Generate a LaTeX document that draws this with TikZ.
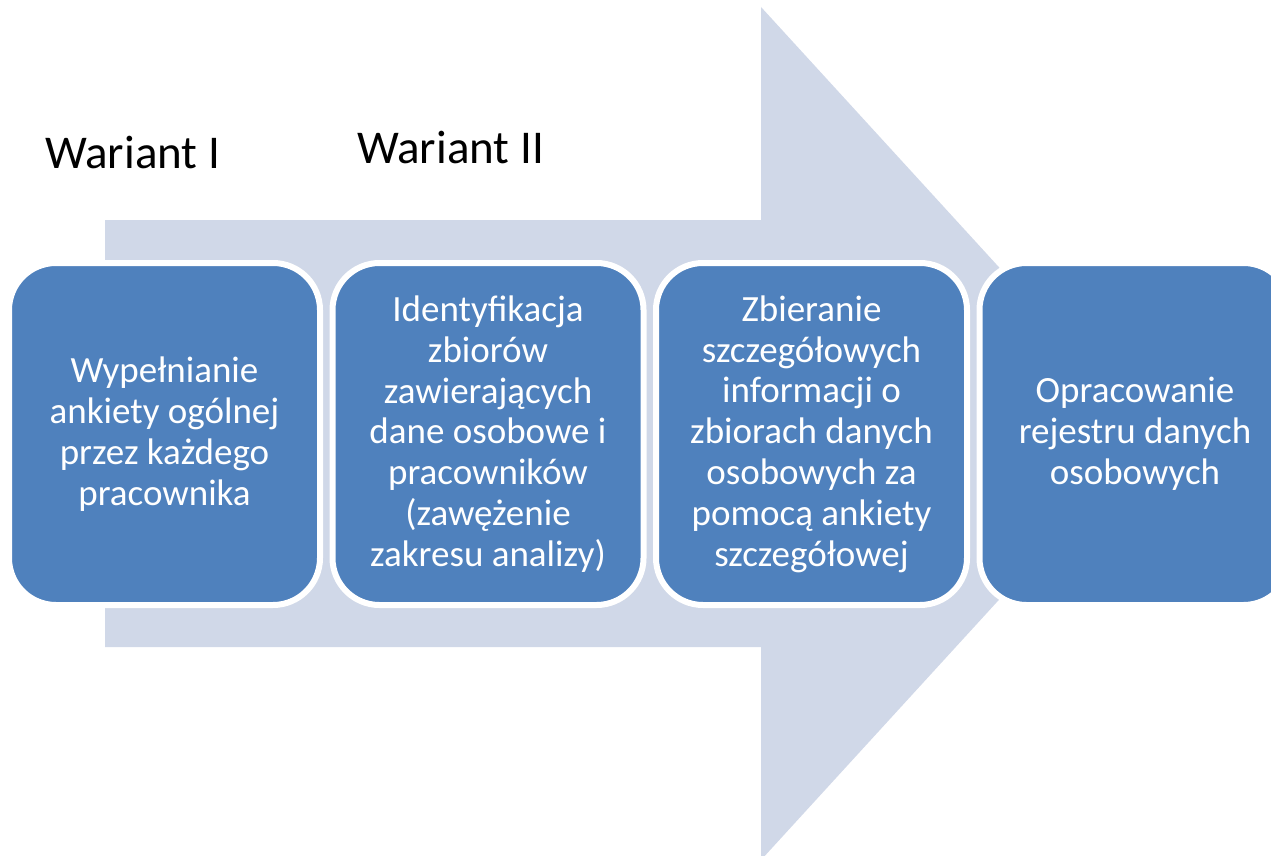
\documentclass[tikz,border=0pt]{standalone}
\usepackage{fontspec}
\setmainfont{Carlito}
\definecolor{boxblue}{HTML}{4F81BD}
\definecolor{arrowgrey}{HTML}{D0D8E8}
\begin{document}
\begin{tikzpicture}[x=1pt,y=-1pt,
  stepbox/.style={draw=white, line width=6pt, fill=boxblue, rounded corners=47pt,
    minimum width=311pt, minimum height=342pt, align=center,
    text=white, inner sep=0pt, font=\fontsize{37}{40.8}\selectfont},
  variant/.style={anchor=base west, inner sep=0pt, font=\fontsize{47}{56}\selectfont, text=black}]
\useasboundingbox (0,0) rectangle (1271,856);
\clip (0,0) rectangle (1271,856);
\fill[white] (0,0) rectangle (1271,856);
% big background arrow
\coordinate (s1) at (105,220);
\coordinate (s2) at (761,220);
\coordinate (h1) at (761,7);
\coordinate (tip) at (1151,433.5);
\coordinate (h2) at (761,860);
\coordinate (s3) at (761,647);
\coordinate (s4) at (105,647);
\fill[arrowgrey] (s1) -- (s2) -- (h1) -- (tip) -- (h2) -- (s3) -- (s4) -- cycle;
% titles
\node[variant] (w1) at (45,168) {Wariant I};
\node[variant] (w2) at (357,164) {Wariant II};
% steps
\node[stepbox] (b1) at (164.5,434) {Wypełnianie\\ankiety ogólnej\\przez każdego\\pracownika};
\node[stepbox] (b2) at (488,434) {Identyfikacja\\zbiorów\\zawierających\\dane osobowe i\\pracowników\\(zawężenie\\zakresu analizy)};
\node[stepbox] (b3) at (811.5,434) {Zbieranie\\szczegółowych\\informacji o\\zbiorach danych\\osobowych za\\pomocą ankiety\\szczegółowej};
\node[stepbox] (b4) at (1135,434) {Opracowanie\\rejestru danych\\osobowych};
\end{tikzpicture}
\end{document}
